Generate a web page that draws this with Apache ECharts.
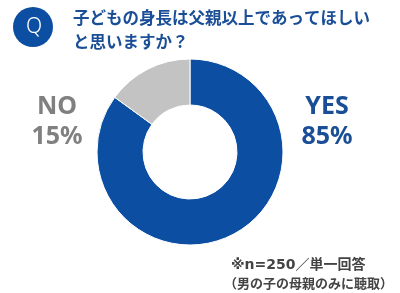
<!DOCTYPE html>
<html>
<head>
<meta charset="utf-8">
<script src="https://cdn.jsdelivr.net/npm/echarts@6/dist/echarts.min.js"></script>
<style>
html, body { margin: 0; padding: 0; background: #fff; }
#main { width: 400px; height: 293px; }
</style>
</head>
<body>
<div id="main"></div>
<script>
var categories = ['YES', 'NO'];
var values = [85, 15];
var titleLines = ['子どもの身長は父親以上であってほしい', 'と思いますか？'];
var noteLines = ['※n=250／単一回答', '（男の子の母親のみに聴取）'];

var sliceColors = ['#0b4ea2', '#c3c3c3'];
var labelColors = ['#1a4e96', '#808080'];
var labelPos = [[327, 122], [57, 122]];

var font = '"Noto Sans CJK JP", "Noto Sans", sans-serif';

var pieData = [];
for (var i = 0; i < categories.length; i++) {
	pieData.push({
		name : categories[i],
		value : values[i],
		itemStyle : { color : sliceColors[i] },
		label : { color : labelColors[i] }
	});
}

var option = {
	animation : false,
	graphic : [ {
		type : 'circle',
		shape : { cx : 33, cy : 27, r : 20 },
		style : { fill : '#0b4ea2' }
	}, {
		type : 'text',
		x : 34, y : 27,
		style : {
			text : 'Q', fill : '#fff', font : '300 21px "Noto Sans", sans-serif',
			align : 'center', verticalAlign : 'middle'
		}
	}, {
		type : 'text',
		x : 73, y : 18,
		style : {
			text : titleLines[0], fill : '#1a4e96', font : 'bold 16.5px ' + font,
			verticalAlign : 'middle'
		}
	}, {
		type : 'text',
		x : 73, y : 42,
		style : {
			text : titleLines[1], fill : '#1a4e96', font : 'bold 16.5px ' + font,
			verticalAlign : 'middle'
		}
	}, {
		type : 'text',
		x : 231, y : 265,
		style : {
			text : noteLines[0], fill : '#444',
			font : 'bold 14px "DejaVu Sans", "Noto Sans CJK JP", sans-serif',
			verticalAlign : 'middle'
		}
	}, {
		type : 'text',
		x : 224, y : 283,
		style : {
			text : noteLines[1], fill : '#444', font : 'bold 13px ' + font,
			verticalAlign : 'middle'
		}
	} ],
	series : [ {
		type : 'pie',
		center : [ 190, 152 ],
		radius : [ 47, 93 ],
		startAngle : 90,
		clockwise : true,
		itemStyle : { borderColor : '#fff', borderWidth : 1 },
		label : {
			show : true,
			formatter : '{b}\n{d}%',
			fontSize : 25,
			fontWeight : 'bold',
			lineHeight : 30,
			fontFamily : '"Noto Sans", sans-serif',
			align : 'center'
		},
		labelLine : { show : false },
		labelLayout : function(params) {
			var p = labelPos[params.dataIndex];
			return { x : p[0], y : p[1], align : 'center', verticalAlign : 'middle' };
		},
		emphasis : { disabled : true },
		data : pieData
	} ]
};

var myChart = echarts.init(document.getElementById('main'));
myChart.setOption(option);
</script>
</body>
</html>
